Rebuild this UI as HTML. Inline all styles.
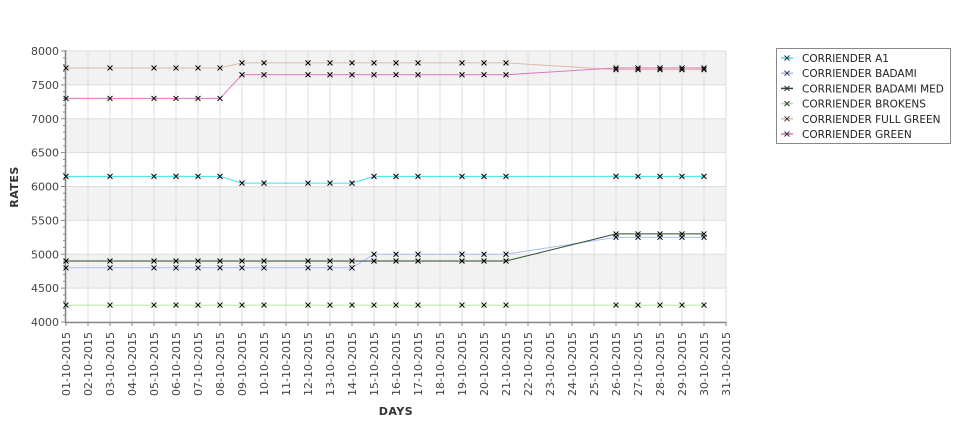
<!DOCTYPE html>
<html><head><meta charset="utf-8"><style>
html,body{margin:0;padding:0;background:#fff;}
svg{display:block;font-family:"DejaVu Sans","Liberation Sans",sans-serif;}
</style></head><body>
<svg id="chart" width="975" height="429" viewBox="0 0 975 429" xmlns="http://www.w3.org/2000/svg">
<g id="plot"></g>
<text x="18" y="187" transform="rotate(-90 18 187)" text-anchor="middle" font-size="11" font-weight="bold" fill="#333" letter-spacing="0.5">RATES</text>
<text x="396" y="415" text-anchor="middle" font-size="11" font-weight="bold" fill="#333" letter-spacing="0.5">DAYS</text>
<g>
<rect x="776.5" y="48.5" width="174" height="95" fill="#fff" stroke="#888"/>
<g id="legendItems"></g>
</g>
</svg>
<script>
const days = [1,2,3,4,5,6,7,8,9,10,11,12,13,14,15,16,17,18,19,20,21,22,23,24,25,26,27,28,29,30,31];
const seriesNames = ["CORRIENDER A1","CORRIENDER BADAMI","CORRIENDER BADAMI MED","CORRIENDER BROKENS","CORRIENDER FULL GREEN","CORRIENDER GREEN"];
const seriesColors = ["#40e0ea","#a8c0f8","#2f4a2f","#b0e8a0","#e0b8a8","#e070c0"];
const yTicks = [4000,4500,5000,5500,6000,6500,7000,7500,8000];
const a1Days = [1,3,5,6,7,8,9,10,12,13,14,15,16,17,19,20,21,26,27,28,29,30];
const a1Values = [6150,6150,6150,6150,6150,6150,6050,6050,6050,6050,6050,6150,6150,6150,6150,6150,6150,6150,6150,6150,6150,6150];
const badamiDays = [1,3,5,6,7,8,9,10,12,13,14,15,16,17,19,20,21,26,27,28,29,30];
const badamiValues = [4800,4800,4800,4800,4800,4800,4800,4800,4800,4800,4800,5000,5000,5000,5000,5000,5000,5250,5250,5250,5250,5250];
const medDays = [1,3,5,6,7,8,9,10,12,13,14,15,16,17,19,20,21,26,27,28,29,30];
const medValues = [4900,4900,4900,4900,4900,4900,4900,4900,4900,4900,4900,4900,4900,4900,4900,4900,4900,5300,5300,5300,5300,5300];
const brokensDays = [1,3,5,6,7,8,9,10,12,13,14,15,16,17,19,20,21,26,27,28,29,30];
const brokensValues = [4250,4250,4250,4250,4250,4250,4250,4250,4250,4250,4250,4250,4250,4250,4250,4250,4250,4250,4250,4250,4250,4250];
const fullDays = [1,3,5,6,7,8,9,10,12,13,14,15,16,17,19,20,21,26,27,28,29,30];
const fullValues = [7750,7750,7750,7750,7750,7750,7825,7825,7825,7825,7825,7825,7825,7825,7825,7825,7825,7725,7725,7725,7725,7725];
const greenDays = [1,3,5,6,7,8,9,10,12,13,14,15,16,17,19,20,21,26,27,28,29,30];
const greenValues = [7300,7300,7300,7300,7300,7300,7650,7650,7650,7650,7650,7650,7650,7650,7650,7650,7650,7750,7750,7750,7750,7750];

const X0=66, X1=726, Y0=322, Y1=51;
const xs = d => X0 + (d-1)*(X1-X0)/30;
const ys = v => Y0 - (v-4000)*(Y0-Y1)/4000;
const NS="http://www.w3.org/2000/svg";
const plot=document.getElementById('plot');
function mk(tag,attrs,parent){const e=document.createElementNS(NS,tag);for(const k in attrs)e.setAttribute(k,attrs[k]);(parent||plot).appendChild(e);return e;}

for(let i=0;i<yTicks.length-1;i++){
  const b=mk('rect',{x:X0,y:ys(yTicks[i+1]),width:X1-X0,height:ys(yTicks[i])-ys(yTicks[i+1]),fill:(i%2==1)?'#f2f2f2':'#ffffff'});
  
  
}
days.forEach(d=>{
  const g=mk('line',{x1:xs(d),x2:xs(d),y1:Y1,y2:Y0,stroke:'#dddddd','stroke-width':1});
  
  
});
yTicks.forEach(v=>{
  const g=mk('line',{x1:X0,x2:X1,y1:ys(v),y2:ys(v),stroke:'#dddddd','stroke-width':1});
  
  
});
mk('line',{x1:X0-0.5,x2:X0-0.5,y1:Y1-1,y2:Y0,stroke:'#888','stroke-width':1.5});
mk('line',{x1:X0-1,x2:X1,y1:Y0+0.5,y2:Y0+0.5,stroke:'#888','stroke-width':1.5});
for(let v=4000;v<=8000;v+=100){
  const major=v%500==0;
  mk('line',{x1:X0-(major?5:3),x2:X0,y1:ys(v),y2:ys(v),stroke:'#888','stroke-width':1});
}
yTicks.forEach(v=>{
  const t=mk('text',{x:X0-7,y:ys(v)+4,'text-anchor':'end','font-size':11,fill:'#444'});
  t.textContent=v;
  
  
});
days.forEach(d=>{
  const x=xs(d);
  mk('line',{x1:x,x2:x,y1:Y0,y2:Y0+4,stroke:'#888','stroke-width':1});
  const lbl=(d<10?'0'+d:d)+'-10-2015';
  const t=mk('text',{x:x+4,y:Y0+10,'text-anchor':'end','font-size':11,fill:'#444',transform:`rotate(-90 ${x+4} ${Y0+10})`});
  t.textContent=lbl;
  
  
});
const allDays=[a1Days,badamiDays,medDays,brokensDays,fullDays,greenDays];
const allVals=[a1Values,badamiValues,medValues,brokensValues,fullValues,greenValues];
allDays.forEach((ds,si)=>{
  const pts=ds.map((d,i)=>xs(d)+','+ys(allVals[si][i])).join(' ');
  const l=mk('polyline',{points:pts,fill:'none',stroke:seriesColors[si],'stroke-width':1});
  
  
});
allDays.forEach((ds,si)=>{
  ds.forEach((d,i)=>{
    const x=xs(d),y=ys(allVals[si][i]);
    const m=mk('path',{d:`M${x-2.5},${y-2.5}L${x+2.5},${y+2.5}M${x-2.5},${y+2.5}L${x+2.5},${y-2.5}`,stroke:'#000','stroke-width':1,fill:'none'});
    
    
  });
});
const lg=document.getElementById('legendItems');
seriesNames.forEach((n,i)=>{
  const y=58+i*15.2;
  const g=mk('g',{},lg);
  
  
  mk('line',{x1:781,x2:793,y1:y,y2:y,stroke:seriesColors[i],'stroke-width':1.5},g);
  mk('path',{d:`M784.5,${y-2.5}L789.5,${y+2.5}M784.5,${y+2.5}L789.5,${y-2.5}`,stroke:'#333','stroke-width':1,fill:'none'},g);
  const t=mk('text',{x:802,y:y+4,'font-size':10.5,fill:'#222'},g);
  t.textContent=n;
});
</script>
</body></html>
